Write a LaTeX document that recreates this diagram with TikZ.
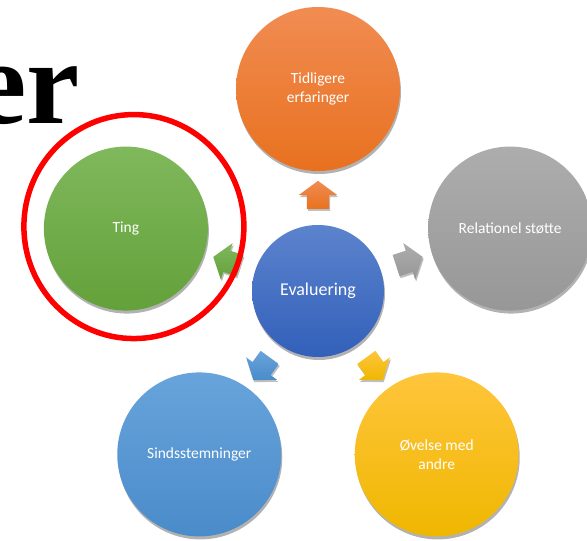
\documentclass[tikz,border=0pt]{standalone}
\usepackage{fontspec}
\setmainfont{Carlito}
\newfontfamily\titelfont{Liberation Serif}
\usetikzlibrary{shapes.arrows,shadows,calc}

\definecolor{orangeA}{HTML}{F18C52}
\definecolor{orangeB}{HTML}{E8711F}
\definecolor{graaA}{HTML}{ADADAD}
\definecolor{graaB}{HTML}{979797}
\definecolor{gulA}{HTML}{FFC53C}
\definecolor{gulB}{HTML}{EFB700}
\definecolor{blaaA}{HTML}{68A4DB}
\definecolor{blaaB}{HTML}{4A8BCA}
\definecolor{groenA}{HTML}{80B85C}
\definecolor{groenB}{HTML}{63A13A}
\definecolor{midtA}{HTML}{5C83CD}
\definecolor{midtB}{HTML}{3260BA}

\tikzset{
  emne/.style={circle, minimum size=164pt, inner sep=0pt, text=white,
    align=center, font=\fontsize{15.5}{19}\selectfont,
    drop shadow={shadow xshift=1pt, shadow yshift=-3pt, opacity=0.3, fill=black}},
  pil/.style={single arrow, minimum height=28pt, inner xsep=0pt, inner ysep=11pt,
    single arrow head extend=8pt, single arrow tip angle=107,
    drop shadow={shadow xshift=1pt, shadow yshift=-2pt, opacity=0.25, fill=black}},
  ring/.style={draw=red, line width=5.5pt}
}

\begin{document}
\begin{tikzpicture}[x=1pt, y=1pt]
    \fill[white] (0,0) rectangle (587,541);
    \useasboundingbox (0,0) rectangle (587,541);

    % Title rest
    \node[anchor=base east, inner sep=0pt, font=\titelfont\bfseries\fontsize{120}{120}\selectfont] (titel) at (80,417) {er};

    % Centre
    \node[emne, minimum size=132pt, font=\fontsize{18}{22}\selectfont,
        top color=midtA, bottom color=midtB] (eval) at (318,250) {Evaluering};

    % Outer circles
    \node[emne, top color=orangeA, bottom color=orangeB] (tidl) at ($(eval)+(90:202)$) {Tidligere\\erfaringer};
    \node[emne, top color=graaA, bottom color=graaB] (rel) at ($(eval)+(18:202)$) {Relationel støtte};
    \node[emne, top color=gulA, bottom color=gulB] (ovel) at ($(eval)+(-54:202)$) {Øvelse med\\andre};
    \node[emne, top color=blaaA, bottom color=blaaB] (sind) at ($(eval)+(-126:202)$) {Sindsstemninger};
    \node[emne, top color=groenA, bottom color=groenB] (ting) at ($(eval)+(162:202)$) {Ting};

    % Arrows
    \node[pil, rotate=90, top color=orangeA, bottom color=orangeB] (p1) at ($(eval)+(90:92)$) {};
    \node[pil, rotate=18, top color=graaA, bottom color=graaB] (p2) at ($(eval)+(18:92)$) {};
    \node[pil, rotate=-54, top color=gulA, bottom color=gulB] (p3) at ($(eval)+(-54:92)$) {};
    \node[pil, rotate=-126, top color=blaaA, bottom color=blaaB] (p4) at ($(eval)+(-126:92)$) {};
    \node[pil, rotate=162, top color=groenA, bottom color=groenB] (p5) at ($(eval)+(162:92)$) {};

    % Red ring
    \draw[ring] ($(ting)+(8,2)$) ellipse [x radius=110, y radius=112];
\end{tikzpicture}
\end{document}
